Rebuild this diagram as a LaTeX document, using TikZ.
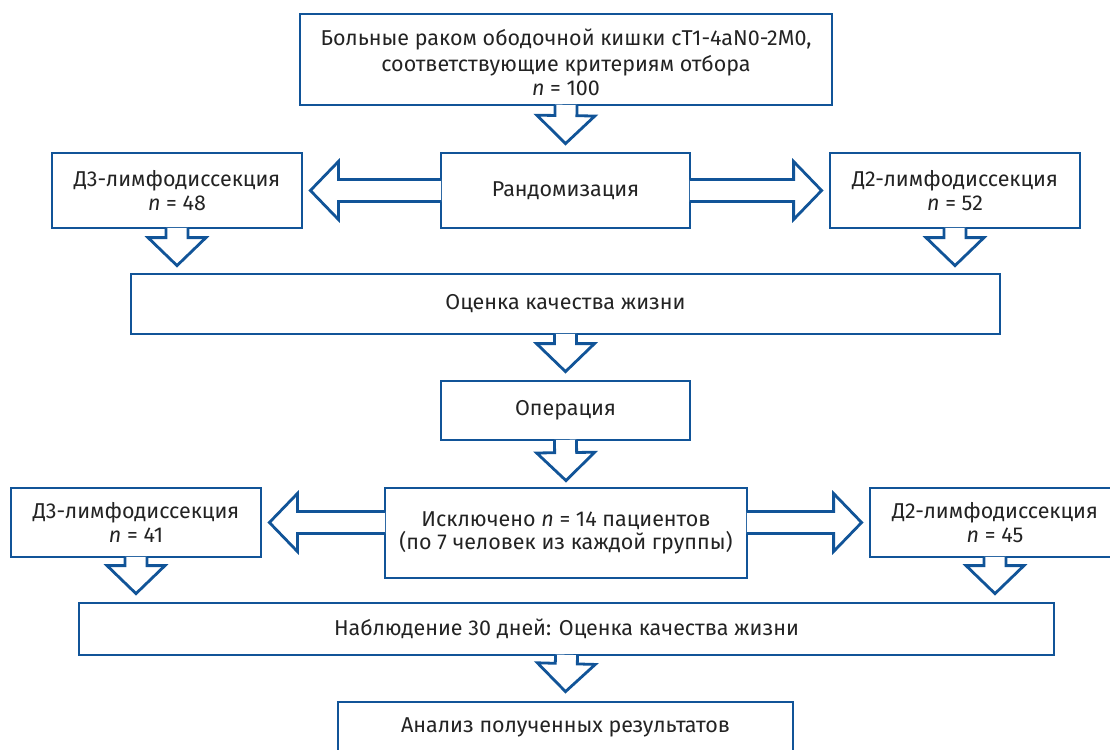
\documentclass[tikz,border=0pt]{standalone}
\usepackage{fontspec}
\setmainfont{Fira Sans}
\usetikzlibrary{calc,positioning}
\definecolor{flowblue}{RGB}{17,84,152}
\definecolor{flowtext}{RGB}{35,35,35}
% hollow block arrow: #1 start on the source border, #2 tip
\newcommand{\blockarr}[2]{%
  \coordinate (ba-s) at #1;
  \coordinate (ba-t) at #2;
  \coordinate (ba-b) at ($(ba-s)!-1.6pt!(ba-t)$);
  \coordinate (ba-h) at ($(ba-t)!28pt!(ba-b)$);
  \filldraw[fill=white, draw=flowblue, line width=2.8pt]
    ($(ba-b)!11pt!90:(ba-t)$) -- ($(ba-h)!11pt!90:(ba-t)$) -- ($(ba-h)!29pt!90:(ba-t)$) -- (ba-t)
    -- ($(ba-h)!29pt!-90:(ba-t)$) -- ($(ba-h)!11pt!-90:(ba-t)$) -- ($(ba-b)!11pt!-90:(ba-t)$);
}

\begin{document}
\begin{tikzpicture}[x=1pt, y=-1pt,
    box/.style={draw=flowblue, line width=2.8pt, align=center, inner sep=0pt,
      text=flowtext, font=\fontsize{21.5}{23.5}\selectfont}]
  \useasboundingbox (0,0) rectangle (1110,749);

  \node[box, minimum width=532pt, minimum height=91pt] (top) at (566,59.5)
    {\raisebox{-3pt}[\height][\depth]{\shortstack{Больные раком ободочной кишки сT1-4aN0-2M0,\\[2pt]соответствующие критериям отбора\\[2pt]\textit{n} = 100}}};
  \node[box, minimum width=249pt, minimum height=75pt] (rand) at (565.5,190.5) {Рандомизация};
  \node[box, minimum width=250pt, minimum height=75pt] (d3a) at (177,190.5) {Д3-лимфодиссекция\\\textit{n} = 48};
  \node[box, minimum width=250pt, minimum height=75pt] (d2a) at (955,190.5) {Д2-лимфодиссекция\\\textit{n} = 52};
  \node[box, minimum width=869pt, minimum height=60pt] (otsenka) at (565.5,304) {Оценка качества жизни};
  \node[box, minimum width=249pt, minimum height=59pt] (oper) at (565.5,410.5) {Операция};
  \node[box, minimum width=362pt, minimum height=90pt] (iskl) at (566,533)
    {Исключено \textit{n} = 14 пациентов\\(по 7 человек из каждой группы)};
  \node[box, minimum width=250pt, minimum height=69pt] (d3b) at (136,522.5) {Д3-лимфодиссекция\\\textit{n} = 41};
  \node[box, minimum width=250pt, minimum height=69pt] (d2b) at (995,522.5) {Д2-лимфодиссекция\\\textit{n} = 45};
  \node[box, minimum width=975pt, minimum height=52pt] (nabl) at (566.5,629) {Наблюдение 30 дней: Оценка качества жизни};
  \node[box, minimum width=455pt, minimum height=50pt] (analiz) at (565.5,727) {Анализ полученных результатов};

  \blockarr{(top.south)}{($(rand.north)+(0,-8)$)}
  \blockarr{(rand.west)}{($(d3a.east)+(7,0)$)}
  \blockarr{(rand.east)}{($(d2a.west)+(-7,0)$)}
  \blockarr{(d3a.south)}{($(d3a.south |- otsenka.north)+(0,-7)$)}
  \blockarr{(d2a.south)}{($(d2a.south |- otsenka.north)+(0,-7)$)}
  \blockarr{(otsenka.south)}{($(oper.north)+(0,-8)$)}
  \blockarr{(oper.south)}{($(iskl.north)+(0,-6)$)}
  \blockarr{(iskl.west |- d3b.east)}{($(d3b.east)+(7,0)$)}
  \blockarr{(iskl.east |- d2b.west)}{($(d2b.west)+(-7,0)$)}
  \blockarr{(d3b.south)}{($(d3b.south |- nabl.north)+(0,-8)$)}
  \blockarr{(d2b.south)}{($(d2b.south |- nabl.north)+(0,-8)$)}
  \blockarr{(nabl.south)}{($(analiz.north)+(0,-9)$)}
\end{tikzpicture}
\end{document}
